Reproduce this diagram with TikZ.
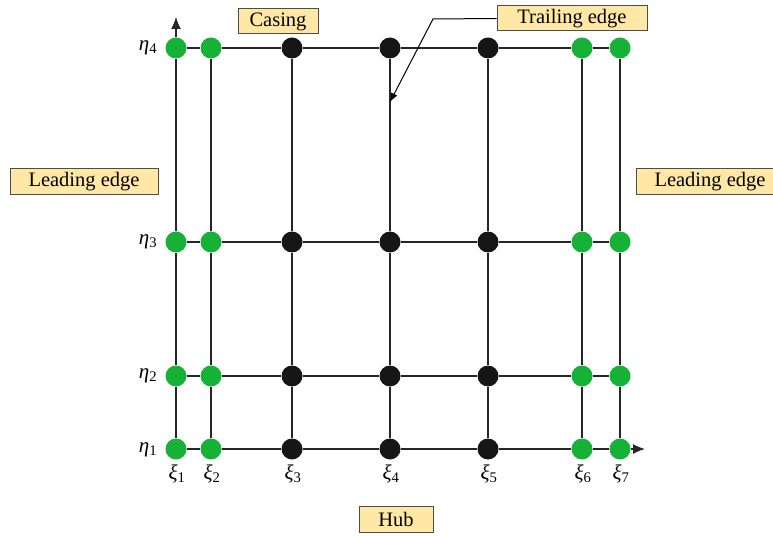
\documentclass[tikz,border=0pt]{standalone}
\usepackage[no-math]{fontspec}
\setmainfont{Liberation Serif}
\usetikzlibrary{arrows.meta}
\definecolor{tagfill}{RGB}{255,232,165}
\definecolor{dotgreen}{RGB}{22,178,56}
\definecolor{dotblack}{RGB}{22,22,22}
\newcommand\gridsym[2]{\textit{#1}\textsubscript{#2}}
\tikzset{
  gridline/.style={line width=1.3pt, draw=black!85},
  gdot/.style={circle, fill=dotgreen, minimum size=21pt, inner sep=0pt},
  bdot/.style={circle, fill=dotblack, minimum size=21pt, inner sep=0pt},
  tag/.style={draw=black!70, line width=1pt, fill=tagfill, inner sep=0pt,
    font=\fontsize{20.5}{20.5}\selectfont},
  axlabel/.style={font=\fontsize{21}{21}\selectfont, inner sep=0pt},
  tip/.style={-{Latex[length=12pt,width=10pt]}},
}
\begin{document}
\begin{tikzpicture}[x=1pt,y=-1pt]
\useasboundingbox (0,0) rectangle (773,537);

% grid points: columns xi_1..xi_7, rows eta_1..eta_4
\foreach \c/\x/\s in {1/176/gdot,2/211/gdot,3/292/bdot,4/390/bdot,5/488/bdot,6/582/gdot,7/620/gdot}{
  \node[\s] (p\c-1) at (\x,449) {};
  \node[\s] (p\c-2) at (\x,376) {};
  \node[\s] (p\c-3) at (\x,242) {};
  \node[\s] (p\c-4) at (\x,48) {};
}

% horizontal grid lines
\foreach \r in {2,3,4}{
  \foreach \a/\b in {1/2,2/3,3/4,4/5,5/6,6/7}{
    \draw[gridline] (p\a-\r) -- (p\b-\r);
  }
}
% vertical grid lines
\foreach \c in {1,...,7}{
  \foreach \a/\b in {1/2,2/3,3/4}{
    \draw[gridline] (p\c-\a) -- (p\c-\b);
  }
}

% axes
\coordinate (ytip) at (176,17);
\coordinate (xtip) at (645,449);
\draw[gridline, tip] (p1-4) -- (ytip);
\foreach \a/\b in {1/2,2/3,3/4,4/5,5/6,6/7}{
  \draw[gridline] (p\a-1) -- (p\b-1);
}
\draw[gridline, tip] (p7-1) -- (xtip);

% axis labels
\node[axlabel] (e4) at (148,48) {\gridsym{η}{4}};
\node[axlabel] (e3) at (148,242) {\gridsym{η}{3}};
\node[axlabel] (e2) at (148,376) {\gridsym{η}{2}};
\node[axlabel] (e1) at (148,450) {\gridsym{η}{1}};
\foreach \c/\x in {1/176,2/211,3/292,4/390,5/488,6/582,7/620}{
  \node[axlabel] (x\c) at (\x+1,474) {\gridsym{ξ}{\c}};
}

% region tags
\node[tag, minimum width=80pt, minimum height=25pt] (casing) at (278,21.5) {Casing};
\node[tag, minimum width=150pt, minimum height=25pt] (trail) at (572,18.5) {Trailing edge};
\node[tag, minimum width=148pt, minimum height=26pt] (lead1) at (84,182) {Leading edge};
\node[tag, minimum width=148pt, minimum height=26pt] (lead2) at (710,182) {Leading edge};
\node[tag, minimum width=74pt, minimum height=26pt] (hub) at (396,519) {Hub};

% leader to the trailing edge
\coordinate (bend) at (433,19);
\coordinate (tepoint) at (390,102);
\draw[line width=1pt, -{Latex[length=9pt,width=7pt]}] (trail.west) -- (bend) -- (tepoint);
\end{tikzpicture}
\end{document}
